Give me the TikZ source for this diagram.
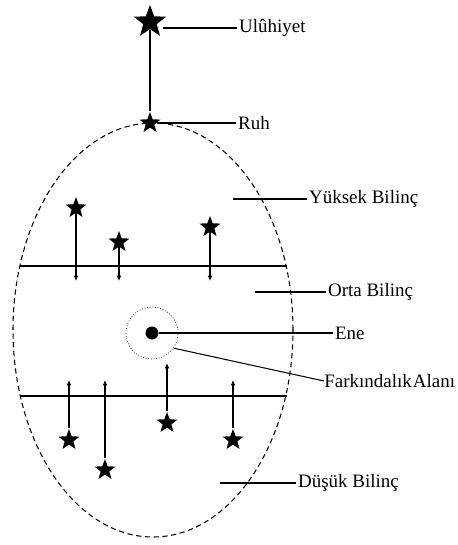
\documentclass[tikz,border=0pt]{standalone}
\usepackage{fontspec}
\setmainfont{Liberation Serif}
\usetikzlibrary{arrows.meta, positioning, shapes.geometric}

\begin{document}
\begin{tikzpicture}
  \tikzset{bigstar/.style={star, star points=5, star point ratio=2.4, fill=black,
                           inner sep=0pt, minimum size=0.68cm}}
  \tikzset{smallstar/.style={bigstar, minimum size=0.44cm}}
  \tikzset{lbl/.style={anchor=west, inner sep=1pt, font=\fontsize{10.8}{13}\selectfont}}
  \tikzset{lead/.style={line width=0.6pt}}
  \tikzset{arr/.style={line width=0.7pt, -{Latex[length=3pt, width=2.6pt]}}}
  \tikzset{level/.style={line width=1.5pt}}

  \useasboundingbox (0,0) rectangle (9.14,-10.9);

  % Outer boundary
  \draw[dashed, line width=0.6pt, dash pattern=on 3pt off 2pt] (3.06,-6.60) ellipse (2.80 and 4.14);

  % Top: Uluhiyet and Ruh
  \node[bigstar] (ulu) at (3.00,-0.44) {};
  \node[smallstar] (ruh) at (3.00,-2.46) {};
  \draw[line width=0.7pt] (ulu) -- (ruh);
  \node[lbl] (ulu-lbl) at (4.74,-0.56) {Ulûhiyet};
  \node[lbl] (ruh-lbl) at (4.72,-2.46) {Ruh};
  \draw[lead] (3.26,-0.56) -- (ulu-lbl);
  \draw[lead] (ruh) -- (ruh-lbl);

  % Level lines
  \coordinate (up-l) at (0.40,-5.32);
  \coordinate (up-r) at (5.74,-5.32);
  \coordinate (lo-l) at (0.40,-7.92);
  \coordinate (lo-r) at (5.74,-7.92);
  \draw[level] (up-l) -- (up-r);
  \draw[level] (lo-l) -- (lo-r);

  % Upper stars, arrows pointing down
  \foreach \name/\x/\y in {ua/1.52/-4.16, ub/2.38/-4.84, uc/4.20/-4.54}{
    \node[smallstar] (\name) at (\x,\y) {};
    \coordinate (\name-tip) at (\x,-5.62);
    \draw[arr] (\name) -- (\name-tip);
  }

  % Lower stars, arrows pointing up
  \foreach \name/\x/\y/\e in {la/1.38/-8.80/-7.60, lb/2.10/-9.40/-7.60,
                              lc/3.34/-8.46/-7.26, ld/4.66/-8.80/-7.60}{
    \node[smallstar] (\name) at (\x,\y) {};
    \coordinate (\name-tip) at (\x,\e);
    \draw[arr] (\name) -- (\name-tip);
  }

  % Ene and awareness field
  \node[circle, fill=black, minimum size=0.26cm, inner sep=0pt] (ene) at (3.04,-6.66) {};
  \node[circle, draw=black!70, densely dotted, line width=0.5pt, minimum size=1.04cm,
        inner sep=0pt] (fark) at (3.04,-6.66) {};

  % Labels
  \node[lbl] (yuksek) at (6.14,-3.98) {Yüksek Bilinç};
  \node[lbl] (orta) at (6.52,-5.84) {Orta Bilinç};
  \node[lbl] (ene-lbl) at (6.66,-6.66) {Ene};
  \node[lbl, inner sep=0pt] (fark-lbl) at (6.48,-7.62) {Farkındalık\kern0.6pt Alanı};
  \node[lbl] (dusuk) at (5.92,-9.66) {Düşük Bilinç};

  \coordinate (yuksek-end) at (4.66,-3.98);
  \coordinate (orta-end) at (5.10,-5.84);
  \coordinate (dusuk-end) at (4.40,-9.66);
  \draw[lead] (yuksek-end) -- (yuksek);
  \draw[lead] (orta-end) -- (orta);
  \draw[lead] (ene) -- (ene-lbl);
  \draw[lead] (fark.-35) -- (fark-lbl.west);
  \draw[lead] (dusuk-end) -- (dusuk);
\end{tikzpicture}
\end{document}
